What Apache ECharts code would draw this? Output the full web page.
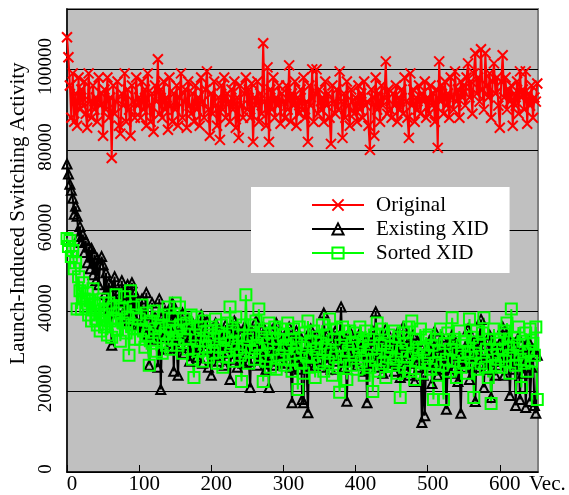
<!DOCTYPE html>
<html>
<head>
<meta charset="utf-8">
<script src="https://cdn.jsdelivr.net/npm/echarts@6/dist/echarts.min.js"></script>
<style>
  html, body { margin: 0; padding: 0; background: #fff; }
  #chart { width: 569px; height: 495px; }
</style>
</head>
<body>
<div id="chart"></div>
<script>
// one value every 2 vectors, x = 0, 2, 4 ... 652
var VEC_STEP = 2;
var seriesNames = ['Original', 'Existing XID', 'Sorted XID'];

var original = [
  108000, 103000, 96000, 88000, 99000, 87000, 94000, 86000, 98000, 90000, 95000, 91000, 97000, 89000, 85500, 99000, 92000, 88000, 96000, 90000, 93000, 87000, 98000, 91000, 94000,
  83500, 95000, 90000, 98000, 88000, 93000, 78000, 96000, 89000, 92000, 97000, 86000, 84000, 94000, 91000, 99000, 87000, 95000, 90000, 83500, 96000, 92000, 88000, 98000, 91000,
  93000, 88000, 97000, 90000, 95000, 86000, 99000, 91000, 87000, 94000, 84500, 96000, 92000, 102500, 89000, 95000, 88000, 97000, 90000, 93000, 85000, 98000, 91000, 87000, 94000,
  90000, 96000, 86000, 93000, 99000, 88000, 92000, 95000, 85500, 97000, 91000, 89000, 94000, 87000, 96000, 90000, 93000, 86000, 98000, 92000, 88000, 95000, 99500, 90000, 83500,
  94000, 89000, 97000, 91000, 86000, 93000, 82500, 96000, 90000, 98000, 88000, 94000, 92000, 87000, 95000, 90000, 97000, 85500, 93000, 83000, 96000, 91000, 88000, 94000, 98000,
  90000, 95000, 88000, 96500, 82000, 93000, 91000, 97000, 87000, 94000, 89000, 106500, 92000, 86000, 100500, 82000, 95000, 90000, 98000, 88000, 93000, 91000, 96000, 86500, 94000,
  92000, 88000, 96000, 90000, 101000, 87000, 94000, 91000, 97000, 86000, 93000, 89000, 95000, 90000, 98000, 88000, 92000, 82000, 96000, 91000, 100000, 87000, 94000, 100000, 89000,
  95000, 90000, 93000, 87000, 97000, 91000, 94000, 88000, 81500, 96000, 92000, 89000, 95000, 90000, 99500, 92000, 83000, 94000, 88000, 97000, 91000, 86000, 95000, 92000, 89000,
  93000, 87000, 96000, 90000, 94000, 88000, 97000, 91000, 92000, 86000, 80000, 95000, 93000, 83500, 98000, 90000, 94000, 87000, 96000, 91000, 93000, 102000, 89000, 95000, 90000,
  88000, 94000, 91000, 96000, 87000, 93000, 90000, 95000, 89000, 98000, 92000, 88000, 83000, 99000, 91000, 95000, 87000, 93000, 90000, 96000, 89000, 94000, 92000, 97000, 88000,
  93000, 89000, 96000, 91000, 94000, 87000, 95000, 80500, 102000, 92000, 96000, 89000, 97000, 91000, 94000, 88000, 98000, 93000, 90000, 99500, 92000, 95000, 88000, 97000, 93000,
  96000, 91000, 98000, 101500, 93000, 97000, 89000, 99000, 104000, 94000, 98000, 92000, 105000, 95000, 90000, 104000, 96000, 93000, 99000, 88000, 97000, 101500, 94000, 98000, 91000,
  85500, 97000, 103500, 93000, 98000, 90000, 95000, 92000, 96000, 86000, 94000, 91000, 97000, 89000, 99500, 93000, 95000, 90000, 99500, 86500, 94000, 91000, 96000, 88000, 93000,
  92000, 96500
];

var existingXid = [
  76500, 74000, 71500, 70000, 68000, 64000, 66000, 63500, 58500, 61000, 57000, 59000, 54500, 57500, 52000, 56000, 50500, 55500, 49000, 54000, 47500, 53000, 46500, 51500, 53500,
  51500, 44000, 49500, 42000, 47000, 40500, 31500, 46000, 48500, 42500, 39500, 45000, 41000, 47500, 38500, 44000, 40000, 46500, 37500, 43000, 47000, 39000, 44500, 36500, 42000,
  41000, 37000, 43000, 35500, 39000, 44500, 34000, 26500, 36000, 42000, 33000, 38500, 35000, 26000, 43000, 20500, 37000, 33500, 40000, 30500, 36500, 39500, 32000, 42000, 25000,
  38000, 31000, 24000, 36500, 33000, 39500, 29500, 35000, 31500, 38000, 27500, 34000, 37000, 30000, 33500, 28500, 36000, 31000, 39000, 27000, 34500, 30500, 37500, 26000, 33000,
  24000, 34500, 29000, 37000, 31500, 27500, 35000, 30000, 33500, 26500, 36500, 29500, 32000, 23000, 34000, 28000, 37500, 31000, 26000, 35500, 29000, 32500, 27000, 36000, 30500,
  33000, 27500, 21000, 35000, 29500, 32000, 37500, 26500, 34000, 30000, 28000, 36000, 31500, 25500, 33500, 21000, 35500, 29000, 32500, 26500, 37000, 30500, 27500, 34000, 29500,
  31000, 27000, 34500, 29000, 36000, 26000, 17200, 32500, 28500, 35000, 30000, 25500, 33500, 18000, 17200, 29500, 27000, 14700, 32000, 35500, 28000, 31000, 26500, 34000, 30000,
  28000, 33000, 26000, 39500, 30500, 27000, 34500, 29000, 25500, 32000, 28500, 35000, 27500, 31000, 33500, 41000, 29500, 26000, 32500, 17600, 30000, 35000, 27500, 31500, 28000,
  32000, 26500, 30000, 34500, 28000, 31500, 25000, 33000, 17200, 29500, 27000, 32500, 35000, 28500, 39800, 26000, 31000, 29000, 33500, 24500, 30500, 35500, 27000, 32000, 29000,
  27500, 33000, 25000, 30500, 34500, 28000, 23500, 31500, 36000, 26500, 29500, 33500, 24000, 31000, 27000, 34000, 22500, 30000, 32500, 26000, 28500, 12300, 24000, 14000, 29000,
  31500, 26000, 33000, 22000, 29000, 35000, 27000, 24000, 31000, 28500, 33500, 25500, 30000, 15600, 27500, 32000, 24500, 34000, 29000, 26000, 31500, 22500, 28000, 14600, 30000,
  26000, 31000, 28500, 35500, 23000, 29500, 27000, 32500, 17500, 30000, 26000, 33500, 37900, 28000, 21000, 31500, 25500, 29000, 34000, 18500, 27500, 32000, 24000, 30000, 26500,
  32000, 27500, 36000, 24000, 30500, 28000, 33000, 19000, 29000, 25500, 31500, 16500, 27000, 33500, 18000, 29500, 24500, 31000, 16000, 28000, 32500, 17500, 26000, 30000, 16500,
  14600, 29000
];

var sortedXid = [
  58000, 56000, 57500, 53500, 55000, 50500, 52000, 40500, 48500, 45000, 40500, 47000, 43000, 41000, 44500, 39000, 42500, 37500, 45500, 41500, 38000, 36500, 42000, 35000, 40000,
  43000, 36000, 40500, 34000, 42000, 37500, 33500, 41000, 38000, 44000, 35500, 39500, 32500, 40500, 37000, 43500, 34500, 38500, 29000, 45000, 36500, 41000, 33000, 39000, 35500,
  38000, 33000, 41500, 35000, 31000, 39500, 34000, 26500, 37500, 32000, 40000, 35500, 30000, 38500, 33500, 36500, 29500, 39000, 34500, 31500, 41000, 36000, 30500, 38000, 33000,
  42000, 35000, 31500, 41000, 36500, 29500, 38000, 33000, 37000, 30500, 35500, 39000, 28000, 23500, 34000, 38500, 30000, 36000, 32500, 27500, 37500, 31000, 35000, 28500, 34000,
  36000, 29500, 33000, 38000, 27000, 34500, 31000, 36500, 26000, 33500, 30000, 37000, 28500, 41000, 32000, 35000, 27500, 38500, 30500, 34000, 29000, 22500, 36500, 31000, 44000,
  33000, 27000, 36500, 30000, 34000, 28000, 37500, 31500, 40500, 29000, 33500, 22500, 35500, 27500, 32000, 37000, 26000, 34500, 30500, 36000, 25500, 33000, 29000, 35500, 28000,
  34000, 26500, 31500, 37000, 28000, 33000, 25000, 35500, 29500, 32000, 20500, 36000, 27000, 31000, 24500, 34500, 29000, 37500, 26000, 32500, 28500, 35000, 23500, 30500, 33500,
  27000, 32000, 36500, 25000, 30500, 34000, 27500, 38000, 29500, 24000, 33000, 28500, 35500, 26000, 19800, 31500, 36000, 27500, 33500, 23000, 30000, 35000, 26500, 32000, 29000,
  34500, 25500, 31000, 36000, 27500, 32500, 24000, 35000, 29000, 33000, 26000, 30500, 20000, 34000, 28000, 37000, 25000, 31500, 35500, 27000, 32000, 23500, 30000, 34000, 28500,
  31000, 26500, 35000, 28000, 24500, 33500, 18500, 30000, 34500, 26000, 32000, 28500, 36000, 25000, 37500, 29500, 23000, 33000, 27500, 31000, 35500, 24500, 30500, 27000, 33500,
  29000, 34000, 25500, 31500, 18000, 27000, 33000, 24000, 30000, 35500, 26500, 18000, 32000, 28000, 34500, 25000, 30500, 38300, 27500, 33000, 23500, 29500, 35000, 26000, 31500,
  27000, 32500, 24500, 30000, 38000, 28500, 33500, 18500, 29500, 35000, 25500, 31500, 27000, 34500, 38300, 26000, 30500, 23500, 33000, 17000, 29000, 35500, 26500, 32000, 28000,
  33000, 26000, 30500, 35000, 27500, 37000, 31000, 24500, 40500, 29000, 33500, 26500, 31500, 36000, 28000, 21000, 32500, 27000, 34500, 25000, 30000, 35500, 27500, 32000, 29000,
  36000, 18000
];

var X_MARK = 'path://M0,0L10,10M10,0L0,10';
var serifFont = 'Liberation Serif';

function toPoints(vals) {
  return vals.map(function (v, i) { return [i * VEC_STEP, v]; });
}

var chart = echarts.init(document.getElementById('chart'), null, { renderer: 'canvas' });

var option = {
  animation: false,
  backgroundColor: '#fff',
  grid: {
    left: 67,
    right: 31,
    top: 9,
    bottom: 22,
    show: true,
    backgroundColor: '#c0c0c0',
    borderColor: '#808080',
    borderWidth: 2
  },
  legend: {
    orient: 'vertical',
    left: 251,
    top: 187,
    backgroundColor: '#fff',
    padding: [7, 21, 9, 60],
    itemWidth: 52,
    itemHeight: 14,
    itemGap: 2,
    textStyle: {
      fontFamily: serifFont,
      fontSize: 21,
      color: '#000',
      lineHeight: 22,
      padding: [0, 0, 0, 7]
    },
    data: seriesNames
  },
  xAxis: {
    type: 'value',
    min: 0,
    max: 653,
    interval: 100,
    name: 'Vec.',
    nameLocation: 'end',
    nameGap: -9,
    nameTextStyle: {
      fontFamily: serifFont,
      fontSize: 21,
      color: '#000',
      verticalAlign: 'top',
      padding: [2, 0, 0, 0]
    },
    axisLine: { onZero: false, lineStyle: { color: '#000', width: 1.5 } },
    axisTick: { inside: true, length: 7, lineStyle: { color: '#000' } },
    axisLabel: {
      fontFamily: serifFont,
      fontSize: 21,
      color: '#000',
      margin: 2,
      padding: [0, 0, 0, 10],
      showMaxLabel: false
    },
    splitLine: { show: false }
  },
  yAxis: {
    type: 'value',
    min: 0,
    max: 115000,
    interval: 20000,
    name: 'Launch-Induced Switching Activity',
    nameLocation: 'middle',
    nameGap: 28,
    nameTextStyle: {
      fontFamily: serifFont,
      fontSize: 21,
      color: '#000',
      padding: [0, 0, 0, 54]
    },
    axisLine: { show: true, lineStyle: { color: '#000', width: 1.5 } },
    axisTick: { show: false },
    axisLabel: {
      rotate: 90,
      fontFamily: serifFont,
      fontSize: 19,
      color: '#000',
      margin: 11,
      padding: [0, 0, 0, 6],
      showMaxLabel: false,
      formatter: function (v) { return String(v); }
    },
    splitLine: { lineStyle: { color: '#000', width: 1 } }
  },
  series: [
    {
      name: seriesNames[0],
      type: 'line',
      data: toPoints(original),
      symbol: X_MARK,
      symbolSize: 10,
      lineStyle: { color: '#ff0000', width: 2 },
      itemStyle: { color: '#ff0000', borderColor: '#ff0000', borderWidth: 2 },
      emphasis: { disabled: true }
    },
    {
      name: seriesNames[1],
      type: 'line',
      data: toPoints(existingXid),
      symbol: 'triangle',
      symbolSize: 9,
      lineStyle: { color: '#000', width: 2 },
      itemStyle: { color: 'transparent', borderColor: '#000', borderWidth: 2 },
      emphasis: { disabled: true }
    },
    {
      name: seriesNames[2],
      type: 'line',
      data: toPoints(sortedXid),
      symbol: 'rect',
      symbolSize: 11,
      lineStyle: { color: '#00ff00', width: 2 },
      itemStyle: { color: 'transparent', borderColor: '#00ff00', borderWidth: 2 },
      emphasis: { disabled: true }
    }
  ]
};

chart.setOption(option);
</script>
</body>
</html>
